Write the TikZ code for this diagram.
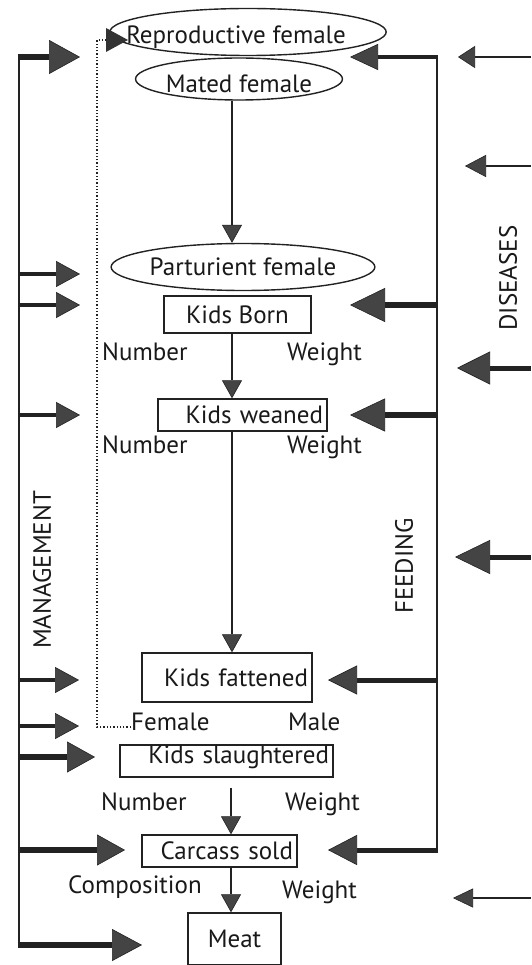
\documentclass[tikz,border=0pt]{standalone}
\usepackage{fontspec}
\setmainfont{PT Sans}
\usetikzlibrary{arrows.meta,shapes.geometric}
\definecolor{ink}{HTML}{222222}
\definecolor{head}{HTML}{444444}
\tikzset{
  txt/.style={font=\fontsize{25}{29}\selectfont, inner sep=0pt, text=black!90},
  lbl/.style={txt, anchor=base west},
  boxnode/.style={draw=ink, line width=1.4pt, txt, inner xsep=4pt},
  ellnode/.style={draw=ink, ellipse, line width=1.4pt, txt, inner sep=0pt},
  arr/.style n args={3}{draw=ink, line width=#1, -{Triangle[length=#2,width=#3,line width=0.6pt,fill=head]}},
  flow/.style={draw=ink, line width=1.4pt, -{Triangle[length=18pt,width=20pt,line width=0.6pt,fill=head]}},
  rail/.style={draw=ink, line width=2.6pt},
  dots/.style={draw=ink, line width=1.3pt, dotted},
}
\begin{document}
\begin{tikzpicture}[x=1pt,y=-1pt]
\useasboundingbox (0,0) rectangle (531,965);
\fill[white] (0,0) rectangle (531,965);

% ---- main chain ----
\node[ellnode, minimum width=273pt, minimum height=47pt] (repro) at (248,32) {\raisebox{-5pt}[\height][\depth]{\hspace*{-24pt}Reproductive female}};
\node[ellnode, minimum width=192pt, minimum height=42pt] (mated) at (239,79) {\raisebox{-5pt}[\height][\depth]{Mated female}};
\node[ellnode, minimum width=263pt, minimum height=47pt] (part) at (243,267) {Parturient female};
\node[boxnode, minimum width=147pt, minimum height=37pt] (born) at (237.5,314.5) {Kids Born};
\node[boxnode, text width=161pt, align=right, minimum height=32pt] (weaned) at (242.5,415) {Kids weaned};
\node[boxnode, text width=162pt, align=right, minimum height=49pt] (fatt) at (227,677.5) {Kids fattened};
\node[boxnode, text width=205pt, align=right, minimum height=32pt] (slau) at (226.5,761) {\raisebox{4pt}[\height][\depth]{Kids slaughtered}};
\node[boxnode, text width=147pt, align=right, minimum height=32pt] (carc) at (219.5,851) {Carcass sold};
\node[boxnode, minimum width=93pt, minimum height=52pt] (meat) at (234.5,939) {Meat};

% ---- side labels ----
\node[lbl] (n1) at (102,360) {Number};
\node[lbl] (w1) at (287,360) {Weight};
\node[lbl] (n2) at (102,453) {Number};
\node[lbl] (w2) at (287,453) {Weight};
\node[lbl] (fem) at (131,730) {Female};
\node[lbl] (mal) at (288,730) {Male};
\node[lbl] (n3) at (101,810) {Number};
\node[lbl] (w3) at (285,810) {Weight};
\node[lbl] (comp) at (68,893) {Composition};
\node[lbl] (w4) at (282,898) {Weight};

\node[txt, rotate=90] (dis) at (508,278) {DISEASES};
\node[txt, rotate=90] (fee) at (404,566) {FEEDING};
\node[txt, rotate=90] (man) at (42,570) {MANAGEMENT};

% ---- main flow arrows ----
\coordinate (ax) at (232,0);
\coordinate (s1) at (231,788);
\draw[flow] (mated.south -| ax) -- (part.north -| ax);
\draw[flow] (born.south -| ax) -- (weaned.north -| ax);
\draw[flow] (weaned.south -| ax) -- (fatt.north -| ax);
\draw[flow] (s1) -- (carc.north -| s1);
\draw[flow] (carc.south -| s1) -- (meat.north -| s1);

% ---- dotted return ----
\coordinate (d1) at (97,727);
\coordinate (d2) at (97,40);
\coordinate (d4) at (106,40);
\coordinate (d3) at (128,40);
\coordinate (h1) at (106,28);
\coordinate (h2) at (106,52);
\draw[dots] (fem.west |- d1) -- (d1) -- (d2) -- (d4);
\fill[black!80] (d3) -- (h1) -- (h2) -- cycle;

% ---- management rail ----
\coordinate (m0) at (19,57);
\coordinate (m9) at (19,945);
\draw[rail] (m0) -- (m9);
\coordinate (ml1) at (80,57);
\coordinate (ml2) at (80,274);
\coordinate (ml3) at (80,305);
\coordinate (ml4) at (80,415);
\coordinate (ml5) at (79,680);
\coordinate (ml6) at (79,726);
\coordinate (ml7) at (95,757);
\coordinate (ml8) at (125,850);
\coordinate (ml9) at (142,945);
\draw[arr={6pt}{31pt}{34pt}] (17.7,57) -- (ml1);
\draw[arr={3.5pt}{24pt}{26pt}] (m0 |- ml2) -- (ml2);
\draw[arr={3.5pt}{24pt}{26pt}] (m0 |- ml3) -- (ml3);
\draw[arr={3.5pt}{24pt}{26pt}] (m0 |- ml4) -- (ml4);
\draw[arr={3.5pt}{24pt}{26pt}] (m0 |- ml5) -- (ml5);
\draw[arr={3.5pt}{24pt}{26pt}] (m0 |- ml6) -- (ml6);
\draw[arr={6pt}{28pt}{31pt}] (m0 |- ml7) -- (ml7);
\draw[arr={6pt}{28pt}{31pt}] (m0 |- ml8) -- (ml8);
\draw[arr={6pt}{30pt}{32pt}] (17.7,945) -- (ml9);

% ---- feeding rail ----
\coordinate (f0) at (437,57);
\coordinate (f9) at (437,850);
\draw[rail, line width=2pt] (f0) -- (f9);
\coordinate (fr1) at (350,57);
\coordinate (fr2) at (350,305);
\coordinate (fr3) at (350,415);
\coordinate (fr4) at (328,680);
\coordinate (fr5) at (328,850);
\draw[arr={4pt}{28pt}{26pt}] (438,57) -- (fr1);
\draw[arr={6pt}{35pt}{34pt}] (f0 |- fr2) -- (fr2);
\draw[arr={6pt}{35pt}{33pt}] (f0 |- fr3) -- (fr3);
\draw[arr={5pt}{29pt}{29pt}] (f0 |- fr4) -- (fr4);
\draw[arr={5pt}{29pt}{30pt}] (438,850) -- (fr5);

% ---- diseases inputs ----
\coordinate (e1) at (531,57);   \coordinate (dt1) at (458,57);
\coordinate (e2) at (531,166);  \coordinate (dt2) at (465,166);
\coordinate (e3) at (531,368);  \coordinate (dt3) at (457,368);
\coordinate (e4) at (531,557);  \coordinate (dt4) at (455,557);
\coordinate (e5) at (531,898);  \coordinate (dt5) at (453,898);
\draw[arr={2pt}{17pt}{22pt}] (e1) -- (dt1);
\draw[arr={2pt}{21pt}{22pt}] (e2) -- (dt2);
\draw[arr={5pt}{33pt}{33pt}] (e3) -- (dt3);
\draw[arr={5pt}{35pt}{34pt}] (e4) -- (dt4);
\draw[arr={2pt}{20pt}{19pt}] (e5) -- (dt5);
\end{tikzpicture}
\end{document}
